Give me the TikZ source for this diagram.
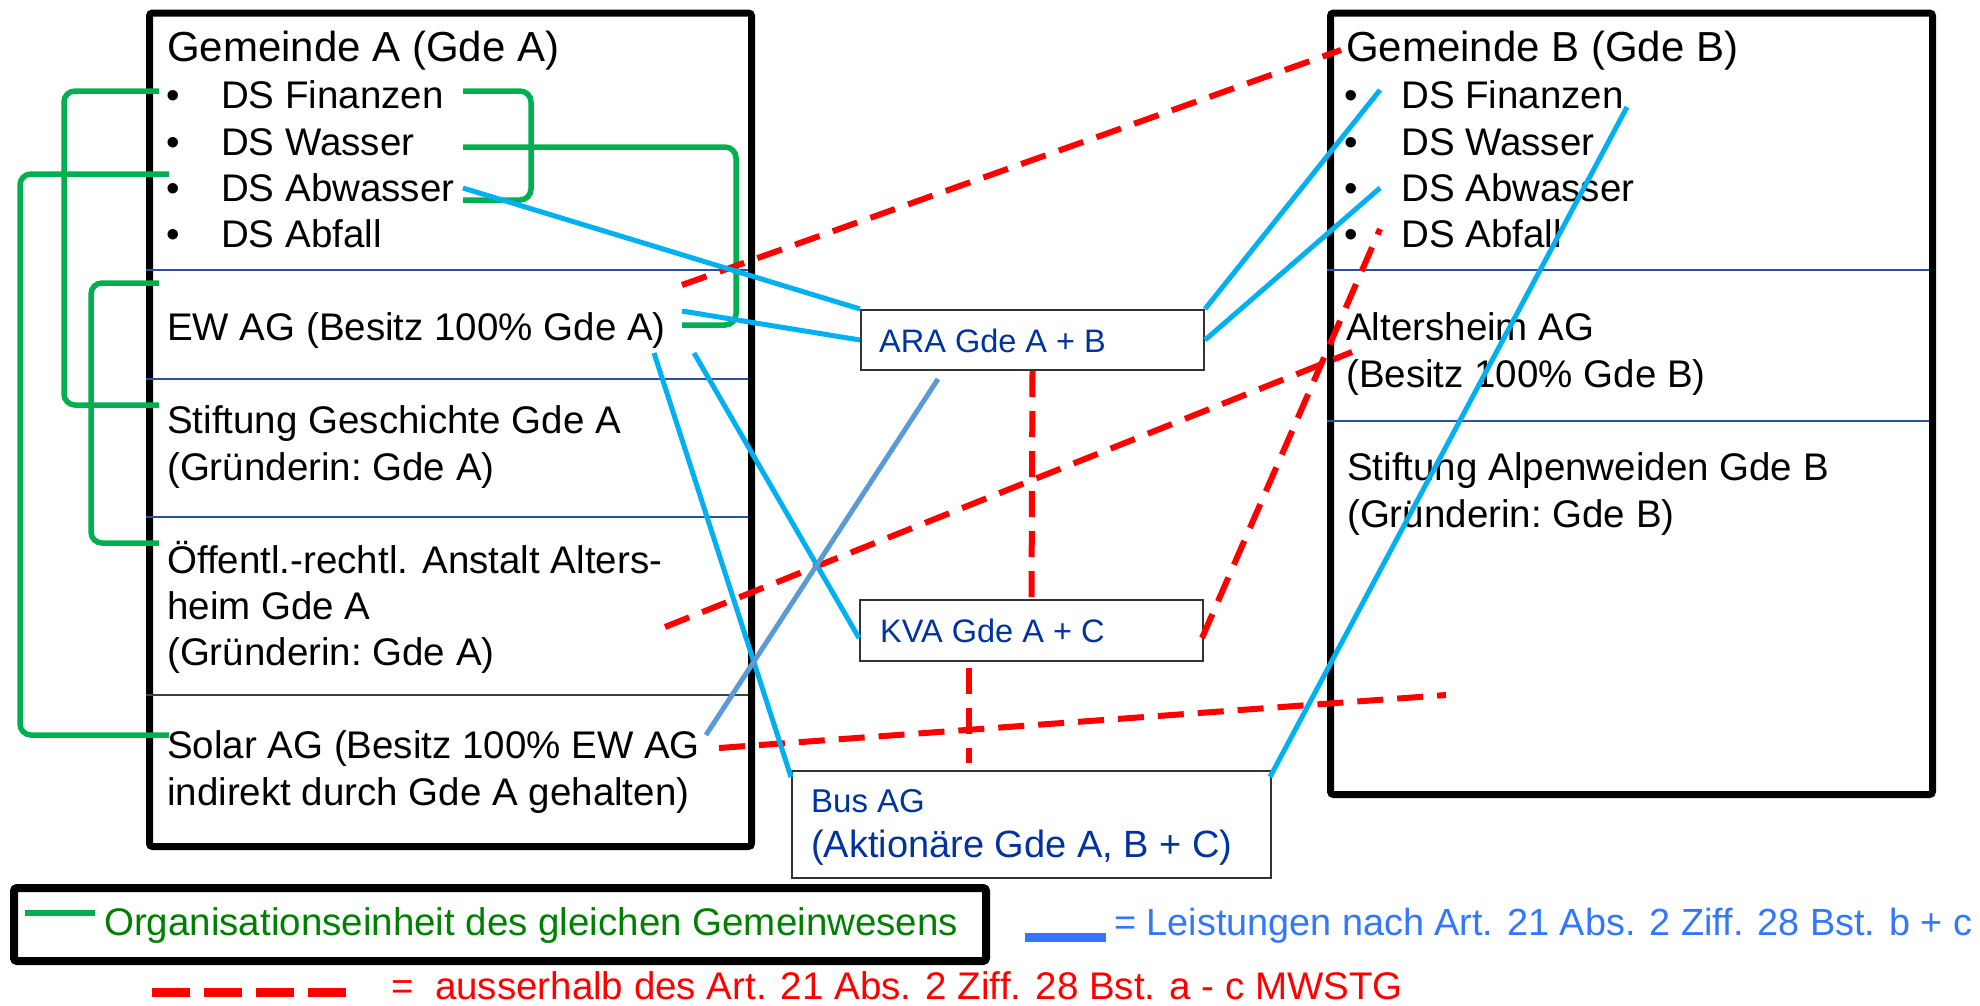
\documentclass[tikz,border=0pt]{standalone}
\usepackage{fontspec}
\setmainfont{Liberation Sans}
\definecolor{grn}{HTML}{00B050}
\definecolor{cyn}{HTML}{00B0F0}
\definecolor{stl}{HTML}{5B9BD5}
\definecolor{rd}{HTML}{FF0000}
\definecolor{dkb}{HTML}{0033A0}
\definecolor{divb}{HTML}{2F4F9F}
\definecolor{divg}{HTML}{404040}
\definecolor{lgreen}{HTML}{008000}
\definecolor{lblue}{HTML}{3377FF}
\begin{document}
\begin{tikzpicture}[x=1pt,y=-1pt,
  txt/.style={anchor=base west, inner sep=0pt, font=\fontsize{38.5}{46}\selectfont},
  head/.style={anchor=base west, inner sep=0pt, font=\fontsize{42}{50}\selectfont},
  ctxt/.style={anchor=base west, inner sep=0pt, text=dkb, font=\fontsize{32.5}{40}\selectfont},
  obox/.style={draw=black, line width=7pt, rounded corners=3pt, inner sep=0pt, anchor=north west},
  cbox/.style={draw=black!80, line width=2pt, inner sep=0pt, anchor=north west},
  divline/.style={draw=divb, line width=2.5pt},
  gline/.style={draw=grn, line width=5.5pt, rounded corners=11pt},
  bline/.style={draw=cyn, line width=5pt},
  sline/.style={draw=stl, line width=5pt},
  rline/.style={draw=rd, line width=6pt, dash pattern=on 26pt off 14pt}]
\useasboundingbox (0,0) rectangle (1980,1005);

% ---- main boxes
\node[obox, minimum width=602pt, minimum height=833.5pt] (boxA) at (146,9.5) {};
\node[obox, minimum width=602pt, minimum height=781.5pt] (boxB) at (1327,9.5) {};
\draw[divline] (146,270) -- (748,270);
\draw[divline] (146,379) -- (748,379);
\draw[divline] (146,517) -- (748,517);
\draw[draw=divg, line width=2.5pt] (146,695) -- (748,695);
\draw[divline] (1327,270) -- (1929,270);
\draw[divline] (1327,421) -- (1929,421);

% ---- texts box A
\node[head] (hA) at (167,61) {Gemeinde A (Gde A)};
\node[txt] (bA1) at (166,108) {•};
\node[txt] (bA2) at (166,155) {•};
\node[txt] (bA3) at (166,201) {•};
\node[txt] (bA4) at (166,247) {•};
\node[txt] (dsA1) at (221,108) {DS Finanzen};
\node[txt] (dsA2) at (221,155) {DS Wasser};
\node[txt] (dsA3) at (221,201) {DS Abwasser};
\node[txt] (dsA4) at (221,247) {DS Abfall};
\node[txt] (ew) at (167,340) {EW AG (Besitz 100\% Gde A)};
\node[txt] (st1) at (167,433) {Stiftung Geschichte Gde A};
\node[txt] (st2) at (167,480) {(Gründerin:\ Gde A)};
\node[txt] (oe1) at (167,573) {Öffentl.-rechtl. Anstalt Alters-};
\node[txt] (oe2) at (167,619) {heim Gde A};
\node[txt] (oe3) at (167,665) {(Gründerin:\ Gde A)};
\node[txt] (so1) at (167,758) {Solar AG (Besitz 100\% EW AG};
\node[txt] (so2) at (167,805) {indirekt durch Gde A gehalten)};

% ---- texts box B
\node[head] (hB) at (1346,61) {Gemeinde B (Gde B)};
\node[txt] (bB1) at (1344,108) {•};
\node[txt] (bB2) at (1344,155) {•};
\node[txt] (bB3) at (1344,201) {•};
\node[txt] (bB4) at (1344,247) {•};
\node[txt] (dsB1) at (1401,108) {DS Finanzen};
\node[txt] (dsB2) at (1401,155) {DS Wasser};
\node[txt] (dsB3) at (1401,201) {DS Abwasser};
\node[txt] (dsB4) at (1401,247) {DS Abfall};
\node[txt] (al1) at (1346,340) {Altersheim AG};
\node[txt] (al2) at (1346,387) {(Besitz 100\% Gde B)};
\node[txt] (sb1) at (1347,480) {Stiftung Alpenweiden Gde B};
\node[txt] (sb2) at (1347,527) {(Gründerin:\ Gde B)};

% ---- centre boxes
\node[cbox, minimum width=343pt, minimum height=60pt] (ara) at (860,309) {};
\node[ctxt] (araT) at (879,352) {ARA Gde A + B};
\node[cbox, minimum width=343pt, minimum height=61pt] (kva) at (859,599) {};
\node[ctxt] (kvaT) at (880,642) {KVA Gde A + C};
\node[cbox, minimum width=479pt, minimum height=107pt] (bus) at (791,770) {};
\node[ctxt, font=\fontsize{33}{40}\selectfont] (busT1) at (811,812) {Bus AG};
\node[ctxt, font=\fontsize{38}{46}\selectfont] (busT2) at (811,857) {(Aktionäre Gde A, B + C)};

% ---- connector end points
\coordinate (gFinL) at (159,91);
\coordinate (gStL) at (159,405);
\coordinate (gAbwL) at (169,174);
\coordinate (gSolL) at (169,735);
\coordinate (gEwL) at (159,283);
\coordinate (gOefL) at (159,543);
\coordinate (gFinR) at (463,91);
\coordinate (gAbwR) at (463,200);
\coordinate (gWasR) at (463,147);
\coordinate (gEwR) at (682,325);
\coordinate (bAbwA) at (463,188);
\coordinate (bEwA1) at (682,311);
\coordinate (bEwA2) at (654,353);
\coordinate (bEwA3) at (694,353);
\coordinate (bSol) at (706,735);
\coordinate (araLow) at (938,379);
\coordinate (bFinB) at (1380,90);
\coordinate (bAbwB) at (1380,188);
\coordinate (bFinB2) at (1627,107);
\coordinate (busNW) at (791,777);
\coordinate (busNE) at (1270,777);
\coordinate (kvaW) at (859,638);
\coordinate (kvaE) at (1202,638);
\coordinate (rA) at (682,285);
\coordinate (rGB) at (1341,50);
\coordinate (rOef) at (665,627);
\coordinate (rAltB) at (1352,352);
\coordinate (rAbfB) at (1380,229);
\coordinate (rSol) at (719,748);
\coordinate (rEnd) at (1446,695);
\coordinate (rK1) at (969,668);
\coordinate (rB1) at (969,763);

% ---- green connectors
\draw[gline] (gFinL) -- ++(-95,0) |- (gStL);
\draw[gline] (gAbwL) -- ++(-149,0) |- (gSolL);
\draw[gline] (gEwL) -- ++(-68,0) |- (gOefL);
\draw[gline] (gFinR) -- ++(68,0) |- (gAbwR);
\draw[gline] (gWasR) -- ++(273,0) |- (gEwR);

% ---- red dashed connectors
\draw[rline] (rA) -- (rGB);
\draw[rline] (ara.south) -- (kva.north);
\draw[rline] (rK1) -- (rB1);
\draw[rline] (rOef) -- (rAltB);
\draw[rline] (kvaE) -- (rAbfB);
\draw[rline] (rSol) -- (rEnd);

% ---- blue connectors
\draw[bline] (bAbwA) -- (ara.north west);
\draw[bline] (bEwA1) -- (ara.west);
\draw[bline] (ara.north east) -- (bFinB);
\draw[bline] (ara.east) -- (bAbwB);
\draw[bline] (bEwA2) -- (busNW);
\draw[bline] (bEwA3) -- (kvaW);
\draw[sline] (bSol) -- (araLow);
\draw[bline] (busNE) -- (bFinB2);

% ---- legend
\node[obox, line width=8pt, minimum width=972pt, minimum height=73pt] (leg) at (10,884) {};
\coordinate (lg1) at (25,913);
\coordinate (lg2) at (95,913);
\draw[grn, line width=6pt] (lg1) -- (lg2);
\node[txt, text=lgreen] (legG) at (104,935) {Organisationseinheit des gleichen Gemeinwesens};
\coordinate (lb1) at (1025,937);
\coordinate (lb2) at (1106,937);
\draw[lblue, line width=9pt] (lb1) -- (lb2);
\node[txt, text=lblue, font=\fontsize{37.8}{46}\selectfont] (legB) at (1114,935) {= Leistungen nach Art. 21 Abs. 2 Ziff. 28 Bst. b + c};
\coordinate (lr1) at (152,992);
\coordinate (lr2) at (347,992);
\draw[rd, line width=9pt, dash pattern=on 38pt off 14pt] (lr1) -- (lr2);
\node[txt, text=rd] (legR) at (391,999) {=\ \ ausserhalb des Art. 21 Abs. 2 Ziff. 28 Bst. a - c MWSTG};
\end{tikzpicture}
\end{document}
